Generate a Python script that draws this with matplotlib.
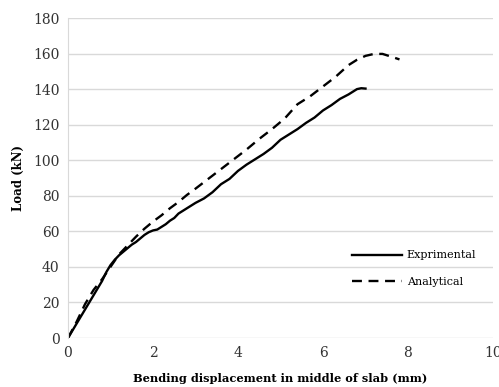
import matplotlib
matplotlib.use("Agg")
import matplotlib.pyplot as plt

# load-displacement curves
exp_x = [0, 0.1, 0.2, 0.3, 0.4, 0.5, 0.6, 0.7, 0.8, 0.9, 1.0, 1.1, 1.2, 1.3, 1.4,
         1.5, 1.6, 1.7, 1.8, 1.9, 2.0, 2.1, 2.2, 2.3, 2.4, 2.5, 2.6, 2.7, 2.8, 2.9,
         3.0, 3.2, 3.4, 3.6, 3.8, 4.0, 4.2, 4.4, 4.6, 4.8, 5.0, 5.2, 5.4, 5.6, 5.8,
         6.0, 6.2, 6.4, 6.6, 6.8, 6.9, 7.0]
exp_y = [0, 4, 8, 12, 16, 20, 24, 28, 32, 37, 41, 44, 46.5, 48.5, 50.5,
         52.5, 54, 56, 58, 59.5, 60.5, 61, 62.5, 64, 66, 67.5, 70, 71.5, 73, 74.5,
         76, 78.5, 82, 86.5, 89.5, 94, 97.5, 100.5, 103.5, 107, 111.5, 114.5, 117.5, 121, 124,
         128, 131, 134.5, 137, 140, 140.5, 140.3]

ana_x = [0, 0.2, 0.4, 0.6, 0.8, 1.0, 1.2, 1.4, 1.6, 1.8, 2.0, 2.2, 2.4, 2.6, 2.8,
         3.0, 3.3, 3.6, 3.9, 4.2, 4.5, 4.8, 5.1, 5.4, 5.7, 6.0, 6.3, 6.6, 6.8, 7.0,
         7.2, 7.4, 7.6, 7.8]
ana_y = [0, 9, 19, 27, 33, 40, 47, 52, 57, 61.5, 65.5, 69, 73, 76.5, 80.5,
         84, 89.5, 95, 100.5, 106, 112, 117.5, 123.5, 131.5, 136, 141.5, 147, 153.5, 156.5, 158.7,
         159.8, 159.8, 158.3, 156.7]

plt.rcParams['font.family'] = ['DejaVu Serif']

fig = plt.figure(figsize=(4.99, 3.87), dpi=100)
ax = fig.add_axes([68/499, 1 - 338/387, 425/499, 320/387])

ax.plot(exp_x, exp_y, color='black', lw=1.7, label='Exprimental')
ax.plot(ana_x, ana_y, color='black', lw=1.7, dashes=(4.2, 2.8), label='Analytical')

ax.set_xlim(0, 10)
ax.set_ylim(0, 180)
ax.set_xticks([0, 2, 4, 6, 8, 10])
ax.set_yticks(range(0, 181, 20))
ax.grid(axis='y', color='#d9d9d9', lw=1)
ax.set_axisbelow(True)
for s in ['top', 'right', 'bottom']:
    ax.spines[s].set_visible(False)
ax.spines['left'].set_color('#d9d9d9')
ax.tick_params(length=0, labelsize=10, colors='#333333', pad=6)

ax.set_xlabel('Bending displacement in middle of slab (mm)', fontsize=8.2, fontweight='bold', labelpad=9)
ax.set_ylabel('Load (kN)', fontsize=8.5, fontweight='bold', labelpad=6)

ax.legend(loc='upper left', bbox_to_anchor=(0.645, 0.305), frameon=False, fontsize=8,
          handlelength=4.5, handletextpad=0.4, labelspacing=1.45)

fig.savefig('out.png', dpi=100)
